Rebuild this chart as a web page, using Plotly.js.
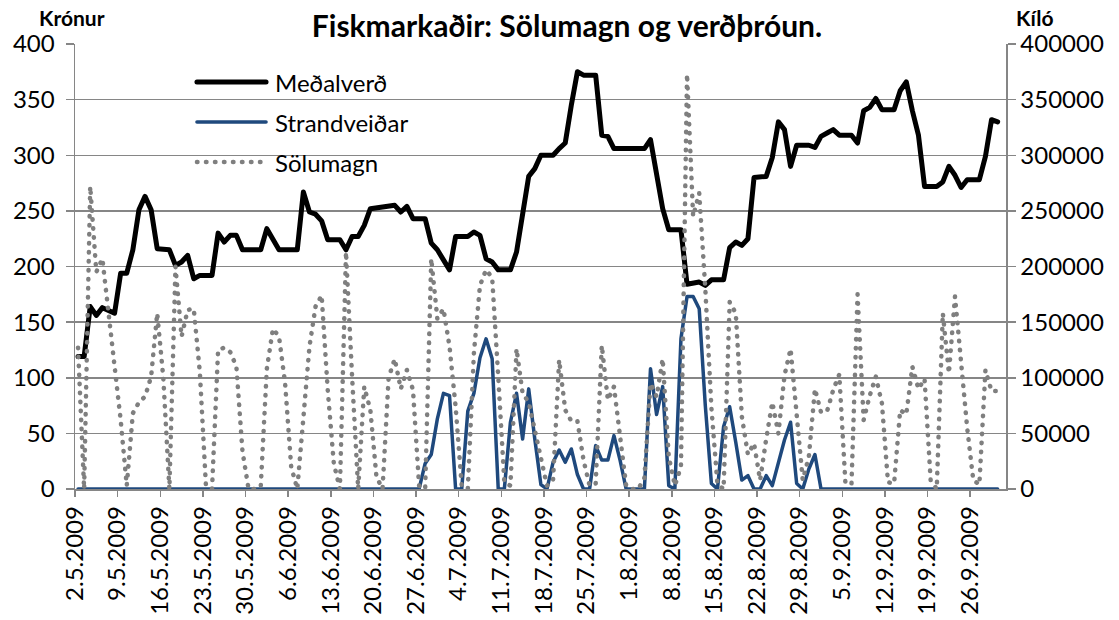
<!DOCTYPE html>
<html><head><meta charset="utf-8">
<script src="https://cdn.plot.ly/plotly-3.0.1.min.js"></script>
<style>
html,body{margin:0;padding:0;background:#fff;}
#chart{width:1119px;height:620px;}
.scatterlayer path.js-line{stroke-linecap:round !important;stroke-linejoin:round !important;}
.shapelayer path{stroke-linecap:round !important;}
</style></head><body><div id="chart"></div>
<script>
// ---- data (daily, 2.5.2009 - 30.9.2009) ----
const startYear = 2009, startMonth = 5, startDay = 2;
const seriesNames = ['Meðalverð', 'Strandveiðar', 'Sölumagn'];
const titleText = 'Fiskmarkaðir: Sölumagn og verðþróun.';
const leftAxisLabel = 'Krónur';
const rightAxisLabel = 'Kíló';

// Meðalverð (krónur, left axis)
const medalverd = [
  119,119,164,156,163,161,158,194,194,215,
  251,263,251,216,215,215,201,204,210,189,
  192,192,192,230,222,228,228,215,215,215,
  215,234,225,215,215,215,215,267,249,247,
  241,224,224,224,215,227,227,237,252,253,
  253,254,255,249,254,243,243,243,221,215,
  206,197,227,227,227,231,228,207,204,197,
  197,197,213,250,281,288,300,300,300,306,
  311,345,375,372,372,372,318,317,306,306,
  306,306,306,306,314,284,252,233,233,233,
  184,185,186,183,188,188,188,217,222,219,
  225,280,281,281,298,330,323,290,309,309,
  309,307,317,320,323,318,318,318,311,340,
  343,351,341,341,341,358,366,340,318,272,
  272,272,276,290,282,271,278,278,278,299,
  332,330
];

// Strandveiðar (left axis)
const strandveidar = [
  0,0,0,0,0,0,0,0,0,0,
  0,0,0,0,0,0,0,0,0,0,
  0,0,0,0,0,0,0,0,0,0,
  0,0,0,0,0,0,0,0,0,0,
  0,0,0,0,0,0,0,0,0,0,
  0,0,0,0,0,0,0,23,31,63,
  86,84,0,0,70,86,118,135,117,0,
  0,60,86,45,90,45,4,0,24,35,
  24,36,13,0,0,39,26,26,48,26,
  0,0,0,0,108,67,92,3,0,135,
  173,173,162,75,5,0,56,74,42,8,
  12,0,0,12,3,25,44,60,5,0,
  18,31,0,0,0,0,0,0,0,0,
  0,0,0,0,0,0,0,0,0,0,
  0,0,0,0,0,0,0,0,0,0,
  0,0
];

// Sölumagn (kíló, right axis)
const solumagn = [
  127000,0,272000,195000,207000,158000,108000,62000,3000,68000,
  78000,83000,101000,158000,100000,0,200000,137000,161000,162000,
  105000,3000,0,125000,127000,123000,110000,34000,0,0,
  2000,108000,144000,137000,95000,20000,0,59000,128000,164000,
  174000,89000,23000,0,213000,101000,0,92000,71000,11000,
  0,100000,117000,90000,107000,89000,3000,0,207000,153000,
  162000,128000,74000,3000,0,122000,183000,197000,190000,101000,
  6000,3000,126000,86000,78000,53000,26000,3000,8000,116000,
  71000,61000,61000,26000,3000,5000,129000,80000,92000,47000,
  3000,0,0,10000,95000,83000,117000,29000,3000,20000,
  373000,245000,266000,180000,73000,4000,0,168000,158000,65000,
  31000,41000,8000,45000,78000,50000,102000,126000,71000,8000,
  29000,90000,69000,70000,89000,103000,6000,4000,175000,62000,
  84000,101000,77000,6000,5000,71000,67000,110000,90000,99000,
  8000,0,158000,104000,173000,112000,55000,8000,4000,107000,
  88000,88000
];

// daily date categories (points sit at mid-day, as in the original)
const dates = medalverd.map((_, i) => {
  const d = new Date(Date.UTC(startYear, startMonth - 1, startDay + i, 12));
  return d.toISOString().slice(0, 10) + ' 12:00';
});

// ---- styling ----
const GRID = '#868686';
const FONT = 'Lato, "Open Sans", sans-serif';
const colors = ['#000000', '#1F497D', '#7F7F7F'];
const DOTS = '0.5px,8.5px';

const traces = [
  {x: dates, y: medalverd, name: seriesNames[0], type: 'scatter', mode: 'lines',
   line: {color: colors[0], width: 5}, yaxis: 'y'},
  {x: dates, y: strandveidar, name: seriesNames[1], type: 'scatter', mode: 'lines',
   line: {color: colors[1], width: 3.5}, yaxis: 'y'},
  {x: dates, y: solumagn, name: seriesNames[2], type: 'scatter', mode: 'lines',
   line: {color: colors[2], width: 4.5, dash: DOTS}, yaxis: 'y2'}
];

// manual legend geometry (paper coordinates)
const legX0 = 0.131, legX1 = 0.2052, legTextX = 0.2127;
const legRows = [0.9146, 0.8247, 0.7348];
const legDash = ['solid', 'solid', DOTS];
const legWidth = [5, 3.5, 4.5];

const shapes = [
  {type: 'rect', xref: 'paper', yref: 'paper', x0: 0.0666, x1: 0.4232, y0: 0.683, y1: 0.982,
   fillcolor: '#ffffff', line: {width: 0}, layer: 'between'}
];
const annotations = [
  {text: '<b>' + leftAxisLabel + '</b>', xref: 'paper', yref: 'paper', x: -0.003, y: 1.06,
   xanchor: 'center', yanchor: 'middle', showarrow: false, font: {family: FONT, size: 21, color: '#000'}},
  {text: '<b>' + rightAxisLabel + '</b>', xref: 'paper', yref: 'paper', x: 1.031, y: 1.06,
   xanchor: 'center', yanchor: 'middle', showarrow: false, font: {family: FONT, size: 21, color: '#000'}}
];
seriesNames.forEach((nm, k) => {
  shapes.push({type: 'line', xref: 'paper', yref: 'paper', x0: legX0, x1: legX1, y0: legRows[k], y1: legRows[k],
    line: {color: colors[k], width: legWidth[k], dash: legDash[k]}, layer: 'above'});
  annotations.push({text: nm, xref: 'paper', yref: 'paper', x: legTextX, y: legRows[k],
    xanchor: 'left', yanchor: 'middle', showarrow: false, font: {family: FONT, size: 24, color: '#000'}});
});

const axisCommon = {ticks: 'outside', tickwidth: 1.5, tickcolor: GRID, showline: true,
  linecolor: GRID, linewidth: 1.5, zeroline: false, tickfont: {family: FONT, size: 24, color: '#000'}};

const layout = {
  width: 1119, height: 620,
  margin: {l: 75, r: 113, t: 44, b: 131, pad: 0},
  paper_bgcolor: '#fff', plot_bgcolor: '#fff',
  font: {family: FONT, size: 24, color: '#000'},
  showlegend: false,
  title: {text: titleText, font: {family: FONT, size: 30, weight: 700, color: '#000'},
    xref: 'container', x: 0.5067, xanchor: 'center', yref: 'container', y: 0.958, yanchor: 'middle'},
  xaxis: Object.assign({}, axisCommon, {type: 'date', range: ['2009-05-02 00:00', '2009-10-01 21:00'],
    tick0: '2009-05-02', dtick: 7 * 86400000, tickformat: '%-d.%-m.%Y', tickangle: -90,
    ticklen: 6, showgrid: false}),
  yaxis: Object.assign({}, axisCommon, {range: [0, 400], tick0: 0, dtick: 50, ticklen: 8,
    showgrid: true, gridcolor: GRID, gridwidth: 1.5, ticklabelstandoff: 6}),
  yaxis2: Object.assign({}, axisCommon, {overlaying: 'y', side: 'right', range: [0, 400000],
    tick0: 0, dtick: 50000, tickformat: 'd', ticklen: 8, showgrid: false}),
  shapes: shapes,
  annotations: annotations
};

Plotly.newPlot('chart', traces, layout, {displayModeBar: false, staticPlot: true});
</script>
</body></html>
